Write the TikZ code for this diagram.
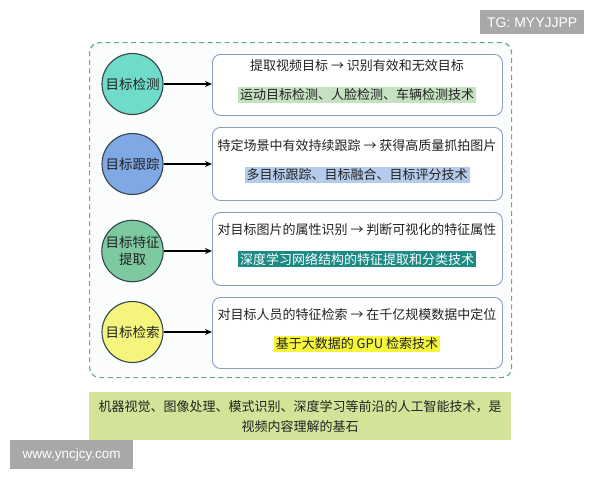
\documentclass[tikz,border=0pt]{standalone}
\usepackage{fontspec}
\setmainfont{Noto Sans CJK SC}
\newfontfamily\latinsans{Liberation Sans}
\usetikzlibrary{arrows.meta}
\definecolor{dashc}{HTML}{6AA88C}
\definecolor{outerfill}{HTML}{FAFDFC}
\definecolor{cA}{HTML}{6FDCC9}
\definecolor{cB}{HTML}{7FA8E5}
\definecolor{cC}{HTML}{7DC9A0}
\definecolor{cD}{HTML}{F5F57D}
\definecolor{circb}{HTML}{34454F}
\definecolor{boxb}{HTML}{8C9CBC}
\definecolor{hA}{HTML}{C6E0C2}
\definecolor{hB}{HTML}{B5CBEB}
\definecolor{hC}{HTML}{1E8A84}
\definecolor{hD}{HTML}{F5F53C}
\definecolor{botfill}{HTML}{D3E498}
\definecolor{wm}{HTML}{A8A8A8}
\definecolor{txt}{HTML}{222222}
\begin{document}
\begin{tikzpicture}[x=1pt,y=-1pt,
  circ/.style={circle,draw=circb,line width=1.1pt,minimum size=61pt,inner sep=0pt,align=center,font=\fontsize{13.5}{17}\selectfont,text=txt},
  infobox/.style={draw=boxb,line width=0.9pt,rounded corners=8pt,fill=white,minimum width=290pt,anchor=north west},
  line1/.style={font=\fontsize{13}{15}\selectfont,text=txt,inner sep=0pt},
  hl/.style={font=\fontsize{13}{15}\selectfont,inner sep=2pt,text=txt},
  conn/.style={-{Stealth[length=7pt,width=6pt]},line width=1.3pt,black},
  wmbox/.style={fill=wm,text=white,font=\latinsans\fontsize{13.5}{15}\selectfont,inner sep=0pt}
]
\useasboundingbox[fill=white] (0,0) rectangle (600,480);
% outer dashed frame
\node[draw=dashc,dashed,dash pattern=on 5pt off 3.5pt,line width=1.2pt,rounded corners=10pt,fill=outerfill,minimum width=422pt,minimum height=335pt,anchor=north west,inner sep=0pt] (frame) at (89,42) {};
% boxes
\node[infobox,minimum height=61pt] (b1) at (212,54) {};
\node[infobox,minimum height=73pt] (b2) at (212,127) {};
\node[infobox,minimum height=73pt] (b3) at (212,212) {};
\node[infobox,minimum height=71pt] (b4) at (212,297) {};
% circles
\node[circ,fill=cA] (c1) at (132.5,84) {目标检测};
\node[circ,fill=cB] (c2) at (132.5,164) {目标跟踪};
\node[circ,fill=cC] (c3) at (132.5,251) {目标特征\\提取};
\node[circ,fill=cD] (c4) at (132.5,332) {目标检索};
% connectors
\draw[conn] (c1.east) -- (c1.east -| b1.west);
\draw[conn] (c2.east) -- (c2.east -| b2.west);
\draw[conn] (c3.east) -- (c3.east -| b3.west);
\draw[conn] (c4.east) -- (c4.east -| b4.west);
% box texts
\node[line1] (t1) at (357,66) {提取视频目标 → 识别有效和无效目标};
\node[hl,fill=hA] (h1) at (357,95) {运动目标检测、人脸检测、车辆检测技术};
\node[line1] (t2) at (357,146) {特定场景中有效持续跟踪 → 获得高质量抓拍图片};
\node[hl,fill=hB] (h2) at (357,175) {多目标跟踪、目标融合、目标评分技术};
\node[line1] (t3) at (357,230) {对目标图片的属性识别 → 判断可视化的特征属性};
\node[hl,fill=hC,text=white] (h3) at (357,259) {深度学习网络结构的特征提取和分类技术};
\node[line1] (t4) at (357,315) {对目标人员的特征检索 → 在千亿规模数据中定位};
\node[hl,fill=hD] (h4) at (357,344) {基于大数据的 GPU 检索技术};
% bottom box
\node[fill=botfill,minimum width=422pt,minimum height=48pt,anchor=north west,inner sep=0pt] (bot) at (89,392) {};
\node[font=\fontsize{13}{20}\selectfont,align=center,text=txt] (bt) at (bot.center) {机器视觉、图像处理、模式识别、深度学习等前沿的人工智能技术，是\\视频内容理解的基石};
% watermark boxes
\node[wmbox,minimum width=123pt,minimum height=29pt,anchor=north west] (w1) at (10,440) {www.yncjcy.com};
\node[wmbox,minimum width=104pt,minimum height=24pt,anchor=north west,font=\latinsans\fontsize{14}{16}\selectfont] (w2) at (480,10) {TG: MYYJJPP};
\end{tikzpicture}
\end{document}
